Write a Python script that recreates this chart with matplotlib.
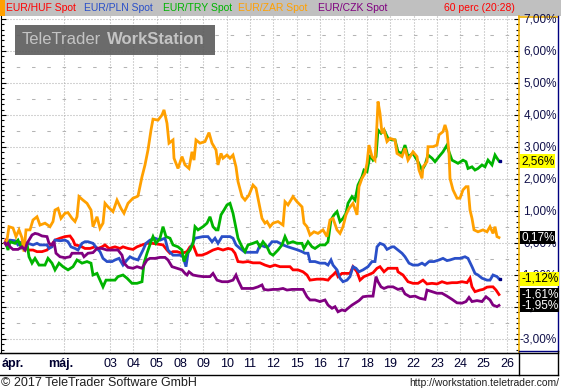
"""
EUR cross rates, 60-minute bars, relative change (%) - TeleTrader style chart.
"""
import numpy as np
import matplotlib.pyplot as plt
from matplotlib.patches import Rectangle
from matplotlib.lines import Line2D
from matplotlib.ticker import MultipleLocator
from matplotlib.transforms import blended_transform_factory

plt.rcParams['font.family'] = ['Liberation Sans', 'DejaVu Sans']
plt.rcParams['lines.scale_dashes'] = False

# ---- data: (hour index, change %) ----
huf = [(0, 0.0), (1, 0.09), (5, 0.04), (12, 0.04), (17, -0.01), (20, -0.12), (23, -0.22), (28, -0.22),
       (32, -0.27), (37, -0.27), (42, -0.22), (45, -0.12), (50, 0.09), (55, 0.15), (60, 0.20), (65, 0.22),
       (68, 0.09), (70, -0.06), (75, -0.09), (80, -0.17), (85, -0.17), (90, -0.12), (93, -0.17), (97, -0.12),
       (100, -0.06), (104, -0.17), (110, -0.12), (115, -0.17), (118, -0.12), (123, -0.17), (128, -0.20),
       (132, -0.12), (137, -0.06), (142, -0.01), (147, -0.01), (152, -0.03), (158, -0.06), (162, -0.22),
       (165, -0.32), (168, -0.27), (172, -0.27), (177, -0.32), (182, -0.27), (185, -0.12), (188, -0.06),
       (192, -0.38), (197, -0.38), (202, -0.32), (205, -0.27), (208, -0.22), (213, -0.17), (218, -0.22),
       (223, -0.17), (227, -0.20), (230, -0.32), (233, -0.58), (238, -0.60), (243, -0.58), (248, -0.62),
       (255, -0.62), (260, -0.69), (265, -0.74), (270, -0.69), (275, -0.74), (285, -0.74), (288, -0.84),
       (293, -0.84), (298, -0.90), (302, -1.00), (305, -1.16), (312, -1.13), (318, -1.13), (323, -1.16),
       (326, -1.05), (328, -1.00), (331, -0.90), (333, -1.05), (337, -0.95), (345, -0.95), (348, -0.74),
       (352, -0.90), (355, -1.16), (359, -1.05), (363, -1.00), (368, -0.93), (372, -0.79), (375, -0.74),
       (379, -0.90), (383, -0.79), (392, -0.79), (393, -0.90), (398, -1.00), (403, -1.21), (408, -1.26),
       (413, -1.26), (418, -1.16), (422, -1.28), (427, -1.26), (432, -1.28), (437, -1.21), (442, -1.26),
       (447, -1.24), (452, -1.24), (457, -1.21), (462, -1.24), (465, -1.10), (467, -1.37), (470, -1.52),
       (475, -1.47), (478, -1.45), (482, -1.38), (485, -1.37), (488, -1.37), (491, -1.47), (494, -1.61)]

pln = [(0, 0.0), (1, -0.01), (5, 0.09), (10, 0.07), (13, -0.06), (17, 0.04), (20, -0.12), (23, -0.01),
       (28, -0.06), (32, -0.01), (35, -0.06), (42, -0.06), (44, -0.17), (47, -0.12), (50, 0.09), (55, 0.07),
       (60, 0.09), (63, 0.04), (66, -0.12), (70, -0.17), (73, -0.22), (77, -0.01), (80, 0.04), (83, 0.04),
       (88, -0.01), (92, -0.17), (95, -0.27), (98, -0.48), (102, -0.58), (107, -0.58), (110, -0.53),
       (114, -0.48), (118, -0.69), (122, -0.53), (125, -0.43), (128, -0.48), (133, -0.53), (138, -0.22),
       (141, -0.01), (145, 0.09), (150, 0.15), (155, 0.09), (160, 0.15), (163, -0.22), (168, -0.38),
       (175, -0.38), (178, -0.43), (181, -0.74), (183, -0.32), (187, -0.06), (190, 0.15), (198, 0.20),
       (203, 0.20), (207, 0.04), (210, 0.15), (213, -0.01), (217, 0.20), (225, 0.20), (228, 0.15),
       (231, -0.06), (235, -0.17), (240, -0.29), (252, -0.29), (255, -0.06), (260, -0.12), (263, -0.12),
       (267, 0.04), (272, 0.04), (275, -0.01), (278, -0.06), (283, -0.12), (288, -0.17), (293, -0.22),
       (297, -0.27), (300, -0.32), (303, -0.32), (305, -0.58), (310, -0.58), (315, -0.63), (320, -0.63),
       (323, -0.69), (326, -0.53), (328, -0.69), (332, -0.84), (335, -1.10), (338, -1.21), (342, -1.16),
       (345, -1.05), (348, -0.74), (351, -0.79), (354, -0.90), (358, -0.84), (363, -0.74), (367, -0.58),
       (370, -0.58), (372, -0.12), (375, -0.01), (379, -0.06), (382, -0.20), (387, -0.12), (389, -0.12),
       (393, -0.22), (397, -0.32), (400, -0.43), (404, -0.63), (408, -0.69), (413, -0.69), (417, -0.63),
       (420, -0.69), (424, -0.58), (429, -0.58), (434, -0.53), (438, -0.48), (442, -0.55), (445, -0.53),
       (450, -0.48), (455, -0.48), (460, -0.43), (463, -0.48), (467, -0.74), (470, -0.95), (473, -1.00),
       (477, -1.10), (482, -1.16), (485, -1.16), (488, -1.00), (492, -1.05), (494, -1.12)]

tryy = [(0, 0.0), (1, -0.01), (3, -0.22), (5, 0.04), (10, -0.01), (13, 0.09), (16, -0.12), (18, 0.04),
        (22, -0.01), (24, -0.43), (27, -0.63), (30, -0.48), (34, -0.69), (40, -0.69), (43, -0.48),
        (47, -0.63), (50, -0.84), (54, -0.63), (58, -0.74), (63, -0.84), (68, -0.74), (72, -0.53),
        (77, -0.63), (82, -0.58), (86, -0.63), (88, -1.00), (92, -0.95), (95, -1.16), (98, -1.37),
        (101, -1.16), (105, -1.16), (110, -1.16), (113, -1.05), (118, -1.00), (122, -1.10), (127, -1.26),
        (132, -1.26), (137, -1.21), (139, -0.63), (142, -0.32), (146, 0.04), (148, 0.20), (151, -0.01),
        (155, 0.15), (158, 0.51), (161, 0.20), (165, 0.15), (168, -0.06), (173, -0.12), (177, -0.22),
        (179, -0.58), (182, -0.32), (185, -0.22), (188, -0.01), (190, 0.51), (193, 0.41), (198, 0.51),
        (202, 0.62), (205, 0.82), (208, 0.51), (211, 0.41), (213, 0.41), (216, 0.88), (219, 1.03),
        (222, 1.19), (225, 1.24), (228, 0.93), (231, 0.46), (233, 0.15), (237, -0.12), (240, -0.27),
        (243, -0.06), (248, -0.01), (252, 0.04), (255, -0.12), (258, 0.04), (262, -0.12), (265, -0.32),
        (268, -0.38), (273, -0.22), (277, -0.06), (280, 0.20), (283, -0.01), (288, 0.04), (292, -0.01),
        (297, -0.01), (299, -0.17), (303, 0.04), (307, -0.12), (310, -0.17), (315, -0.06), (320, -0.06),
        (323, 0.04), (326, 0.72), (329, 0.88), (332, 0.98), (335, 0.67), (338, 0.77), (341, 0.93),
        (343, 1.24), (347, 1.45), (350, 1.34), (353, 1.81), (357, 2.07), (359, 2.28), (362, 2.23),
        (365, 2.75), (368, 2.59), (371, 2.70), (373, 3.53), (376, 3.43), (379, 3.53), (383, 3.27),
        (387, 3.22), (390, 3.22), (393, 2.85), (397, 2.80), (400, 3.06), (403, 2.70), (408, 2.80),
        (413, 2.54), (417, 2.28), (420, 2.44), (423, 2.75), (427, 2.65), (430, 2.54), (434, 2.70),
        (438, 2.85), (442, 3.06), (444, 2.85), (447, 2.59), (450, 2.54), (453, 2.49), (458, 2.59),
        (461, 2.54), (463, 2.33), (467, 2.38), (470, 2.28), (473, 2.33), (477, 2.44), (480, 2.38),
        (483, 2.59), (487, 2.44), (490, 2.75), (492, 2.65), (494, 2.56)]

zar = [(0, 0.0), (2, 0.09), (4, 0.51), (8, 0.47), (11, 0.20), (14, 0.41), (17, 0.16), (19, -0.27),
       (21, 0.41), (25, 0.41), (28, 0.72), (32, 0.82), (35, 0.56), (40, 0.62), (45, 0.51), (48, 0.67),
       (50, 1.03), (53, 1.08), (56, 0.77), (60, 0.93), (63, 0.95), (67, 0.77), (70, 0.67), (72, 0.82),
       (74, 1.45), (78, 1.34), (82, 1.24), (86, 1.03), (88, 0.51), (92, 0.82), (95, 0.46), (98, 0.62),
       (100, 1.24), (103, 1.13), (108, 0.98), (112, 1.34), (116, 1.08), (119, 0.93), (123, 1.24),
       (128, 1.40), (132, 1.45), (133, 1.47), (137, 2.07), (140, 2.44), (143, 2.91), (146, 3.53),
       (148, 3.87), (153, 3.84), (157, 4.00), (159, 4.16), (162, 3.74), (164, 3.12), (168, 3.22),
       (169, 2.65), (173, 2.33), (177, 2.70), (180, 2.44), (184, 2.33), (187, 2.85), (189, 2.59),
       (191, 3.22), (195, 3.12), (200, 3.17), (204, 3.45), (207, 3.12), (211, 2.91), (213, 2.44),
       (216, 2.80), (218, 2.65), (222, 2.75), (225, 2.65), (228, 2.75), (231, 2.38), (233, 1.92),
       (237, 1.45), (240, 1.34), (244, 1.50), (248, 1.81), (251, 1.71), (254, 1.24), (257, 0.77),
       (260, 0.62), (262, 0.67), (265, 0.51), (268, 0.62), (273, 0.67), (278, 0.56), (280, 1.29),
       (283, 1.19), (288, 1.45), (292, 1.29), (297, 1.13), (299, 0.62), (302, 0.51), (305, 0.25),
       (309, 0.35), (313, 0.30), (318, 0.41), (322, 0.20), (325, 0.72), (328, 0.77), (332, 0.41),
       (335, 0.30), (338, 0.51), (341, 0.88), (344, 1.08), (348, 1.24), (352, 0.88), (354, 1.76),
       (357, 2.02), (360, 2.18), (362, 2.49), (364, 3.06), (367, 2.70), (370, 2.59), (372, 3.74),
       (373, 4.42), (375, 4.05), (377, 3.43), (379, 3.53), (382, 3.17), (385, 3.27), (390, 3.22),
       (392, 2.80), (397, 2.70), (400, 2.96), (403, 2.59), (408, 2.85), (412, 2.70), (414, 2.28),
       (417, 2.02), (418, 2.38), (422, 2.54), (423, 3.01), (428, 3.01), (432, 3.06), (434, 3.38),
       (438, 3.48), (440, 3.69), (442, 3.48), (444, 2.80), (445, 2.02), (448, 1.66), (452, 1.40),
       (455, 1.40), (458, 1.66), (461, 1.76), (463, 1.76), (465, 1.03), (467, 0.77), (469, 0.41),
       (473, 0.35), (478, 0.41), (482, 0.35), (485, 0.51), (488, 0.30), (490, 0.51), (492, 0.20),
       (494, 0.17)]

czk = [(0, 0.0), (1, -0.06), (3, -0.01), (5, -0.12), (8, -0.20), (13, -0.20), (17, -0.12), (20, -0.22),
       (22, -0.01), (24, 0.09), (27, 0.25), (30, 0.30), (33, 0.28), (37, 0.22), (42, 0.20), (44, -0.01),
       (47, -0.06), (49, 0.04), (51, -0.32), (55, -0.43), (60, -0.46), (65, -0.43), (67, -0.32),
       (77, -0.32), (79, -0.43), (83, -0.32), (88, -0.30), (92, -0.17), (97, -0.17), (102, -0.22),
       (113, -0.22), (117, -0.38), (119, -0.63), (123, -0.76), (128, -0.79), (132, -0.74), (137, -0.79),
       (142, -0.53), (145, -0.48), (150, -0.48), (155, -0.45), (160, -0.45), (163, -0.53), (167, -0.74),
       (172, -0.79), (177, -0.84), (180, -0.95), (182, -1.00), (184, -0.90), (188, -1.00), (193, -1.03),
       (198, -1.05), (205, -1.05), (208, -0.95), (212, -1.16), (217, -1.21), (223, -1.21), (228, -1.16),
       (231, -1.00), (233, -1.16), (237, -1.42), (242, -1.42), (248, -1.42), (253, -1.37), (257, -1.31),
       (259, -1.45), (263, -1.47), (268, -1.45), (273, -1.45), (278, -1.42), (282, -1.47), (287, -1.45),
       (298, -1.45), (302, -1.68), (305, -1.78), (310, -1.78), (315, -1.83), (320, -1.78), (323, -1.94),
       (327, -2.04), (330, -1.99), (333, -2.15), (337, -2.09), (340, -2.12), (343, -2.04), (347, -1.94),
       (350, -1.88), (354, -1.80), (358, -1.68), (363, -1.66), (368, -1.66), (371, -1.05), (373, -1.21),
       (376, -1.37), (379, -1.42), (383, -1.37), (388, -1.37), (393, -1.45), (397, -1.42), (400, -1.59),
       (405, -1.68), (410, -1.66), (415, -1.73), (420, -1.76), (422, -1.47), (427, -1.52), (432, -1.57),
       (437, -1.57), (442, -1.66), (447, -1.76), (452, -1.87), (457, -1.88), (461, -1.83), (464, -1.70),
       (467, -1.83), (472, -1.80), (477, -1.83), (481, -1.68), (485, -1.78), (488, -1.94), (492, -1.99),
       (494, -1.95)]

names = ['EUR/HUF Spot', 'EUR/PLN Spot', 'EUR/TRY Spot', 'EUR/ZAR Spot', 'EUR/CZK Spot']
series = [huf, pln, tryy, zar, czk]
colors = ['#ff0000', '#2a4fc8', '#00b400', '#ffa000', '#800080']
last_box = ['black', 'yellow', 'yellow', 'black', 'black']

day_labels = ['03', '04', '05', '08', '09', '10', '11', '12', '15', '16',
              '17', '18', '19', '22', '23', '24', '25', '26']
may_start = 59          # hour index of 1 May
first_day = 105         # hour index of 03 May
hours_per_day = 23.35

# ---- figure layout helpers (pixel -> figure fraction) ----
W, H = 561, 390


def fx(px):
    return px / W


def fy(py):
    return 1 - py / H


fig = plt.figure(figsize=(W / 100, H / 100), dpi=100)
fig.patch.set_facecolor('white')

# header bar
fig.add_artist(Rectangle((0, fy(16)), 1, 16 / H, transform=fig.transFigure,
                         fc='#c0c0c0', ec='none', zorder=0))
fig.add_artist(Rectangle((0, fy(16)), fx(5), 16 / H, transform=fig.transFigure,
                         fc='#ffa000', ec='none', zorder=1))
head_x = [6, 84, 163, 238, 318]
for name, c, x in zip(names, colors, head_x):
    fig.text(fx(x), fy(8), name, color=c, fontsize=7.5, va='center', ha='left')
fig.text(fx(444), fy(8), '60 perc (20:28)', color='#ff0000', fontsize=7.5, va='center', ha='left')

# main plot
ax = fig.add_axes([fx(1), fy(353), fx(519) - fx(1), fy(16) - fy(353)])
ax.set_xlim(-4, 514)
ax.set_ylim(-3.4375, 7.094)

day_pos = first_day + hours_per_day * np.arange(len(day_labels))
for x in np.concatenate([[may_start], day_pos]):
    ax.axvline(x, color='#a8a8a8', lw=0.75, ls=(0, (0.72, 1.44)), zorder=1)
for v in range(-3, 8):
    ax.axhline(v, color='#a8a8a8', lw=0.75, ls=(0, (0.72, 1.44)), zorder=1)
for v in np.arange(-3, 7) + 0.5:
    ax.axhline(v, color='#b4b4b4', lw=0.75, ls=(0, (2.5, 8.5)), zorder=1)

for s, c in zip(series, colors):
    h, v = np.array(s).T
    ax.plot(h, v, color=c, lw=2.0, zorder=3, solid_joinstyle='miter')

# small end markers (TRY, PLN)
for s in (tryy, pln):
    ax.plot(s[-1][0] + 1, s[-1][1], marker='s', ms=2, color='#000080', zorder=4)

ax.set_xticks([])
ax.set_yticks(range(-3, 8))
ax.yaxis.set_minor_locator(MultipleLocator(1 / 6))
ax.tick_params(axis='y', which='both', direction='in', left=True, right=True,
               labelleft=False, labelright=False, color='black', width=0.8)
ax.tick_params(axis='y', which='major', length=3.5)
ax.tick_params(axis='y', which='minor', length=2.2)
ax.spines['top'].set_visible(False)
ax.spines['left'].set_color('black')
ax.spines['bottom'].set_color('black')
ax.spines['right'].set_color('#f0b000')
ax.spines['right'].set_linewidth(1.2)

# right value axis box
fig.add_artist(Line2D([fx(519), fx(558)], [fy(16.5), fy(16.5)], color='#f0b000', lw=1.2))
fig.add_artist(Line2D([fx(558), fx(558)], [fy(16), fy(351)], color='#000080', lw=1.0))
fig.add_artist(Line2D([fx(519), fx(558)], [fy(351), fy(351)], color='#000080', lw=1.0))

ytrans = blended_transform_factory(fig.transFigure, ax.transData)
for v in range(-3, 8):
    fig.text(fx(557), v, f'{v:.2f}%'.replace('.', ','), transform=ytrans,
             ha='right', va='center', fontsize=8.5, color='#10104a')

# last value boxes
for s, box in zip(series, last_box):
    val = s[-1][1]
    fig.text(fx(521), val, f'{val:.2f}%'.replace('.', ','), transform=ytrans,
             ha='left', va='center', fontsize=8.5,
             color='black' if box == 'yellow' else 'white', zorder=6,
             bbox=dict(boxstyle='square,pad=0.06', fc=box, ec='none'))

# watermark
fig.add_artist(Rectangle((fx(15), fy(55)), fx(215) - fx(15), 30 / H, transform=fig.transFigure,
                         fc='#5e5e5e', ec='none', alpha=0.92, zorder=5))
fig.text(fx(22), fy(40), 'TeleTrader', color='#c4c4c4', fontsize=12, va='center', ha='left', zorder=6)
fig.text(fx(107), fy(40), 'WorkStation', color='#c4c4c4', fontsize=12, fontweight='bold',
         va='center', ha='left', zorder=6)

# date label row
fig.add_artist(Line2D([0, fx(558)], [fy(353), fy(353)], color='black', lw=1.0))
fig.add_artist(Line2D([0, fx(558)], [fy(375), fy(375)], color='black', lw=1.0))
fig.add_artist(Line2D([fx(519), fx(519)], [fy(353), fy(375)], color='black', lw=1.0))
fig.add_artist(Line2D([fx(558), fx(558)], [fy(351), fy(375)], color='black', lw=1.0))

xtrans = blended_transform_factory(ax.transData, fig.transFigure)
for x, lab in zip(day_pos, day_labels):
    fig.text(x, fy(364), lab, transform=xtrans, ha='center', va='center',
             fontsize=9, color='#000030')
fig.text(may_start - 3, fy(364), 'máj.', transform=xtrans, ha='center', va='center',
         fontsize=9, fontweight='bold', color='#000030')
fig.text(fx(2), fy(364), 'ápr.', ha='left', va='center',
         fontsize=9, fontweight='bold', color='#000030')

# footer
fig.text(fx(1), fy(383), '© 2017 TeleTrader Software GmbH', ha='left', va='center',
         fontsize=9, color='#202020')
fig.text(fx(559), fy(383), 'http://workstation.teletrader.com/', ha='right', va='center',
         fontsize=7.5, color='#202020')

fig.savefig('out.png', dpi=100)
plt.close(fig)
